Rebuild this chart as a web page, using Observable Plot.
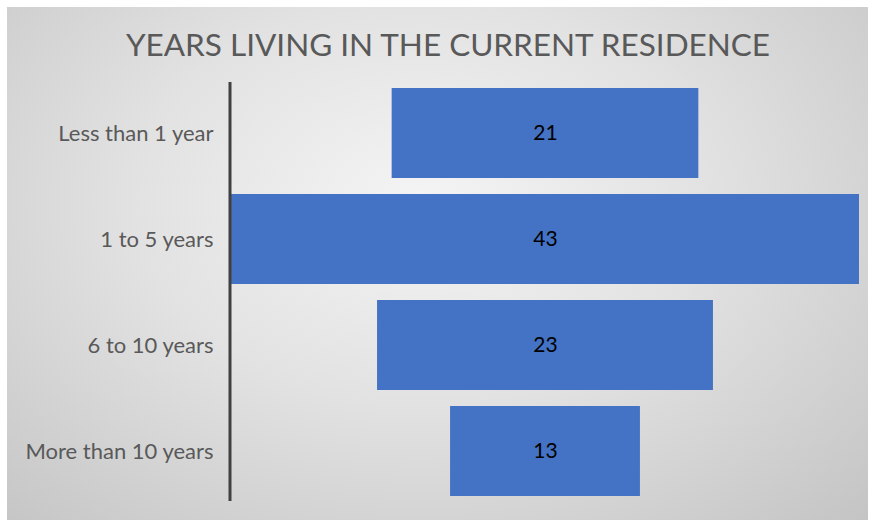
<!DOCTYPE html>
<html>
<head>
<meta charset="utf-8">
<script src="https://cdn.jsdelivr.net/npm/d3@7"></script>
<script src="https://cdn.jsdelivr.net/npm/@observablehq/plot@0.6"></script>
<style>
  html, body { margin: 0; padding: 0; background: #ffffff; }
  #wrap { position: relative; width: 872px; height: 520px; background: #ffffff; overflow: hidden; }
  #panel {
    position: absolute; left: 7px; top: 7px; width: 861px; height: 513px;
    background: radial-gradient(ellipse farthest-corner at 48% 38%, #f4f4f4 0%, #e2e2e2 45%, #c4c4c4 100%);
  }
  #title {
    position: absolute; left: 0; top: 25px; width: 872px; text-align: center;
    font-family: Lato, "Open Sans", sans-serif; font-size: 31.5px; color: #595959;
    z-index: 2; margin-left: 12px;
  }
  #chart { position: absolute; left: 7px; top: 7px; }
</style>
</head>
<body>
<div id="wrap">
  <div id="panel"></div>
  <div id="title">YEARS LIVING IN THE CURRENT RESIDENCE</div>
  <div id="chart"></div>
</div>
<script>
const categories = ["Less than 1 year", "1 to 5 years", "6 to 10 years", "More than 10 years"];
const values = [21, 43, 23, 13];

const rows = categories.map((c, i) => ({ category: c, value: values[i] }));
const half = d3.max(values) / 2;

const chart = Plot.plot({
  width: 861,
  height: 512,
  marginTop: 73,
  marginBottom: 15,
  marginLeft: 224,
  marginRight: 9,
  style: { background: "transparent", fontFamily: "Lato, 'Open Sans', sans-serif" },
  x: { domain: [-half, half], axis: null },
  y: { domain: categories, paddingInner: 0.151, paddingOuter: 0.075, label: null },
  marks: [
    Plot.barX(rows, { x1: d => -d.value / 2, x2: d => d.value / 2, y: "category", fill: "#4472C4" }),
    Plot.text(rows, { x: 0, y: "category", text: d => String(d.value), fill: "#000000", fontSize: 21 }),
    Plot.axisY({ tickSize: 0, tickPadding: 18, fontSize: 22, color: "#595959", label: null }),
    Plot.ruleX([-half], { stroke: "#404040", strokeWidth: 3, dx: -1.5, insetTop: 2, insetBottom: 3 })
  ]
});
document.getElementById("chart").appendChild(chart);
</script>
</body>
</html>
